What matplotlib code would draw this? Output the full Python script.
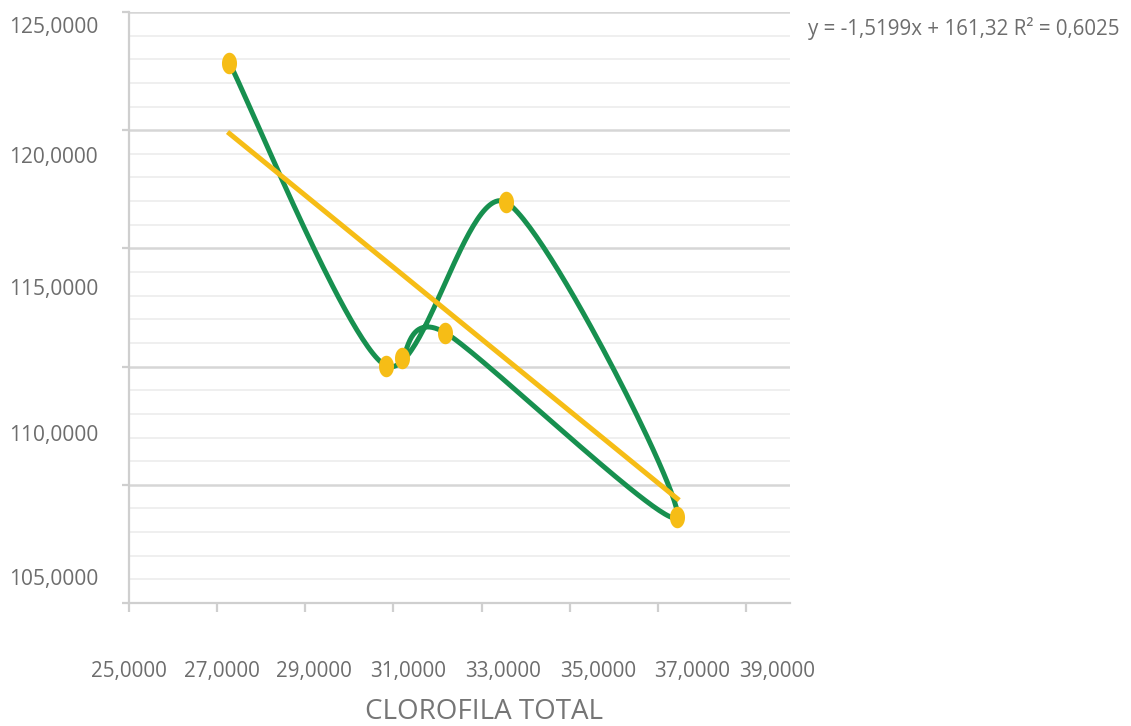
import numpy as np
import matplotlib
matplotlib.use("Agg")
import matplotlib.pyplot as plt

# ---------------- data ----------------
x_clorofila = [27.28, 30.83, 33.55, 37.44, 32.18, 31.20]
y_values = [122.84, 110.04, 116.96, 103.64, 111.43, 110.37]
trend_slope = -1.5199
trend_intercept = 161.32
r_squared = 0.6025
x_tick_values = [25, 27, 29, 31, 33, 35, 37, 39]
x_tick_labels = ["25,0000", "27,0000", "29,0000", "31,0000", "33,0000", "35,0000", "37,0000", "39,0000"]
y_tick_labels = ["125,0000", "120,0000", "115,0000", "110,0000", "105,0000"]
x_title = "CLOROFILA TOTAL"

# ---------------- style ----------------
W, H = 1131, 726
GREEN = "#17904f"
YELLOW = "#f6bd16"
GRID_MAJ = "#d6d6d6"
GRID_MIN = "#eeeeee"
AXIS = "#cfcfcf"
TXT = "#6d6d6d"
plt.rcParams["font.family"] = ["Open Sans", "DejaVu Sans"]

fig = plt.figure(figsize=(W / 100, H / 100), dpi=100)
fig.patch.set_facecolor("white")
ax = fig.add_axes([129 / W, 1 - 603 / H, 661 / W, 591 / H])
ax.set_xlim(25, 40)
ax.set_ylim(100, 125)

ax.set_yticks(np.arange(100, 126, 5))
ax.set_yticks(np.arange(100, 126, 1), minor=True)
ax.set_xticks(x_tick_values)
ax.set_xticklabels([])
ax.set_yticklabels([])
ax.grid(axis="y", which="minor", color=GRID_MIN, lw=1.3, zorder=0)
ax.grid(axis="y", which="major", color=GRID_MAJ, lw=1.8, zorder=0)
ax.tick_params(axis="y", which="major", length=5, width=1.6, color=AXIS)
ax.tick_params(axis="y", which="minor", length=0)
ax.tick_params(axis="x", which="major", length=6.5, width=1.6, color=AXIS)
for s in ("top", "right"):
    ax.spines[s].set_visible(False)
for s in ("left", "bottom"):
    ax.spines[s].set_color(AXIS)
    ax.spines[s].set_linewidth(1.6)
ax.set_axisbelow(True)


# smoothed line through the points in their order (Bezier, Catmull-Rom style)
def smooth(xs, ys, n=60, k=1 / 7.5):
    P = np.column_stack([xs, ys]).astype(float)
    Pe = np.vstack([P[0], P, P[-1]])
    t = np.linspace(0, 1, n)[:, None]
    out = []
    for i in range(len(P) - 1):
        p0, p1, p2, p3 = Pe[i], Pe[i + 1], Pe[i + 2], Pe[i + 3]
        c1 = p1 + (p2 - p0) * k
        c2 = p2 - (p3 - p1) * k
        seg = (1 - t) ** 3 * p1 + 3 * (1 - t) ** 2 * t * c1 + 3 * (1 - t) * t ** 2 * c2 + t ** 3 * p2
        out.append(seg if i == 0 else seg[1:])
    return np.vstack(out)


curve = smooth(x_clorofila, y_values)
ax.plot(curve[:, 0], curve[:, 1], color=GREEN, lw=3.6, solid_capstyle="round",
        solid_joinstyle="round", zorder=3)

xt = np.array([min(x_clorofila), max(x_clorofila)])
ax.plot(xt, trend_slope * xt + trend_intercept, color=YELLOW, lw=3.6, zorder=4)

th = np.linspace(0, 2 * np.pi, 40)
ell = list(zip(0.7 * np.cos(th), np.sin(th)))
ax.plot(x_clorofila, y_values, linestyle="none", marker=ell, markersize=15.5,
        color=YELLOW, markeredgewidth=0, zorder=5)

# ---------------- texts ----------------
fig.canvas.draw()
renderer = fig.canvas.get_renderer()


def fit(txt, target_w):
    bb = txt.get_window_extent(renderer)
    txt.set_fontsize(txt.get_fontsize() * target_w / bb.width)


def px(xp, yp):
    return xp / W, 1 - yp / H


y_label_pos = [27, 158, 290, 435, 580]
for lab, yp in zip(y_tick_labels, y_label_pos):
    t = fig.text(*px(98, yp), lab, ha="right", va="center", color=TXT, fontsize=14)
    fit(t, 90)

x_label_pos = [129, 222, 314, 408, 503, 598, 692, 777]
for lab, xp in zip(x_tick_labels, x_label_pos):
    t = fig.text(*px(xp, 671), lab, ha="center", va="center", color=TXT, fontsize=14)
    fit(t, 77)

t = fig.text(*px(484, 712), x_title, ha="center", va="center", color="#757575", fontsize=18)
fit(t, 238)


def fmt(v, d):
    return f"{v:.{d}f}".replace(".", ",")


eq = f"y = {fmt(trend_slope, 4)}x + {fmt(trend_intercept, 2)} R² = {fmt(r_squared, 4)}"
t = fig.text(*px(808, 28), eq, ha="left", va="center", color=TXT, fontsize=14)
fit(t, 314)

fig.savefig("out.png", dpi=100, facecolor="white")
